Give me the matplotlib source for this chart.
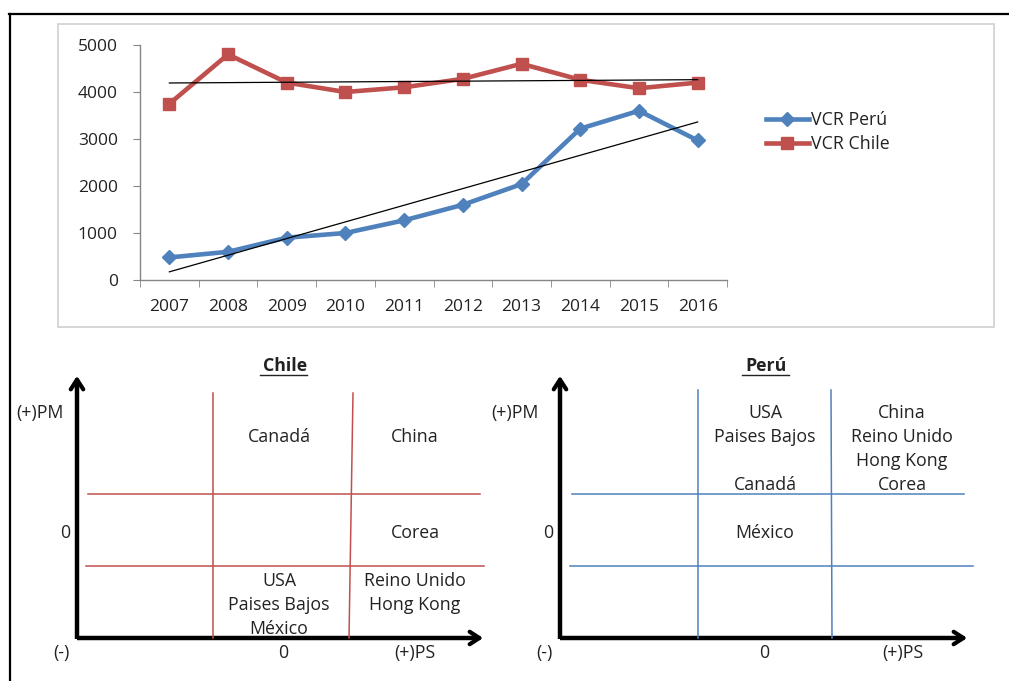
import matplotlib
matplotlib.use("Agg")
import matplotlib.pyplot as plt
import numpy as np
from matplotlib.patches import Rectangle

plt.rcParams['font.family'] = ['Open Sans', 'DejaVu Sans']

# ---------------- data ----------------
years = ['2007', '2008', '2009', '2010', '2011', '2012', '2013', '2014', '2015', '2016']
vcr_peru = [480, 600, 900, 1000, 1270, 1600, 2040, 3220, 3600, 2970]
vcr_chile = [3750, 4800, 4200, 4000, 4100, 4280, 4600, 4260, 4080, 4200]
y_ticks = [0, 1000, 2000, 3000, 4000, 5000]
series_names = ['VCR Perú', 'VCR Chile']

# quadrant diagram texts (cell column, cell row, text lines)
chile_cells = [
    (1, 0, ['Canadá']),
    (2, 0, ['China']),
    (2, 1, ['Corea']),
    (1, 2, ['USA', 'Paises Bajos', 'México']),
    (2, 2, ['Reino Unido', 'Hong Kong']),
]
peru_cells = [
    (1, 0, ['USA', 'Paises Bajos', '', 'Canadá']),
    (2, 0, ['China', 'Reino Unido', 'Hong Kong', 'Corea']),
    (1, 1, ['México']),
]

W, H = 1009, 681
FS = 12.8
TXT = '#222222'
fig = plt.figure(figsize=(W / 100, H / 100), dpi=100)
fig.patch.set_facecolor('white')

# overlay axes in pixel coordinates (decorations and diagrams)
ov = fig.add_axes([0, 0, 1, 1], zorder=0)
ov.set_xlim(0, W)
ov.set_ylim(H, 0)
ov.axis('off')

# outer borders
ov.plot([9, W], [14, 14], color='black', lw=1.6)
ov.plot([10, 10], [14, H], color='black', lw=1.6)
# chart frame
ov.add_patch(Rectangle((58, 24), 936, 303, fill=False, edgecolor='#d0d0d0', lw=1.2))

# ---------------- top line chart ----------------
l, r, t, b = 140, 727, 45, 280
ax = fig.add_axes([l / W, 1 - b / H, (r - l) / W, (b - t) / H], zorder=2)
ax.patch.set_alpha(0)
x = np.arange(len(years))
blue = '#4F81BD'
red = '#C0504D'
ax.plot(x, vcr_peru, color=blue, lw=3.3, marker='D', ms=7.5, label=series_names[0], zorder=3)
ax.plot(x, vcr_chile, color=red, lw=3.3, marker='s', ms=8, label=series_names[1], zorder=3)
for ys in (vcr_peru, vcr_chile):
    k, c = np.polyfit(x, ys, 1)
    ax.plot(x, k * x + c, color='black', lw=0.9, zorder=4)

ax.set_xlim(-0.5, len(years) - 0.5)
ax.set_ylim(0, 5000)
ax.set_yticks(y_ticks)
ax.set_yticklabels([str(v) for v in y_ticks], fontsize=12.5, color=TXT)
ax.set_xticks(x)
ax.set_xticklabels(years, fontsize=12.5, color=TXT)
ax.set_xticks(np.arange(-0.5, len(years)), minor=True)
ax.tick_params(axis='x', which='major', length=0, pad=14)
ax.tick_params(axis='x', which='minor', length=5, color='#868686', direction='out')
ax.tick_params(axis='y', length=5, color='#868686', direction='out', pad=11)
for s in ('top', 'right'):
    ax.spines[s].set_visible(False)
for s in ('left', 'bottom'):
    ax.spines[s].set_color('#868686')
    ax.spines[s].set_linewidth(1.0)

leg = fig.legend(loc='upper left', bbox_to_anchor=(750 / W, 1 - 95 / H), frameon=False,
                 fontsize=12.8, handlelength=2.4, handletextpad=0.15, labelspacing=0.35)
for txt in leg.get_texts():
    txt.set_color(TXT)

# ---------------- quadrant diagrams ----------------
def diagram(ox, name, color, vx, vtop, hx, hlines_x, label_x_pm, ps_x):
    ov.plot([ox, ox], [639, 385], color='black', lw=3.2, solid_capstyle='butt')
    ov.plot([ox, hx - 8], [638, 638], color='black', lw=3.2, solid_capstyle='butt')
    ov.annotate('', xy=(ox, 373), xytext=(ox, 392),
                arrowprops=dict(arrowstyle='->,head_length=0.7,head_width=0.45', lw=3.0, color='black'))
    ov.annotate('', xy=(hx + 6, 638), xytext=(hx - 10, 638),
                arrowprops=dict(arrowstyle='->,head_length=0.7,head_width=0.45', lw=3.0, color='black'))
    for (xa, xb) in vx:
        ov.plot([xa, xb], [vtop, 638], color=color, lw=1.1)
    for yv, (xa, xb) in zip([494, 566], hlines_x):
        ov.plot([xa, xb], [yv, yv], color=color, lw=1.1)
    cx = (vx[0][0] + vx[1][0]) / 2
    ov.text(cx + 2, 366, name, ha='center', va='center', fontsize=FS, fontweight='bold', color=TXT)
    tw = 44
    ov.plot([cx - tw / 2 - 1, cx + tw / 2 + 2], [375, 375], color=TXT, lw=1.0)
    ov.text(label_x_pm, 413, '(+)PM', ha='center', va='center', fontsize=FS, color=TXT)
    ov.text(ox - 12, 533, '0', ha='center', va='center', fontsize=FS, color=TXT)
    ov.text(ox - 16, 653, '(-)', ha='center', va='center', fontsize=FS, color=TXT)
    ov.text(cx, 653, '0', ha='center', va='center', fontsize=FS, color=TXT)
    ov.text(ps_x, 653, '(+)PS', ha='center', va='center', fontsize=FS, color=TXT)
    return cx


def place(cells, col_c, row_tops):
    for col, row, lines in cells:
        y0 = row_tops[row]
        for i, s in enumerate(lines):
            ov.text(col_c[col], y0 + 24 * i, s, ha='center', va='center', fontsize=FS, color=TXT)


diagram(77, 'Chile', '#C0504D', [(213, 213), (353, 349)], 393, 480,
        [(88, 480), (86, 484)], 40, 415)
place(chile_cells, [None, 279, 415], {0: 437, 1: 533, 2: 581})

diagram(560, 'Perú', '#4F81BD', [(698, 698), (831, 832)], 390, 964,
        [(572, 964), (570, 973)], 515, 903)
place(peru_cells, [None, 765, 902], {0: 413, 1: 533, 2: 581})

fig.savefig('out.png', dpi=100, facecolor='white')
